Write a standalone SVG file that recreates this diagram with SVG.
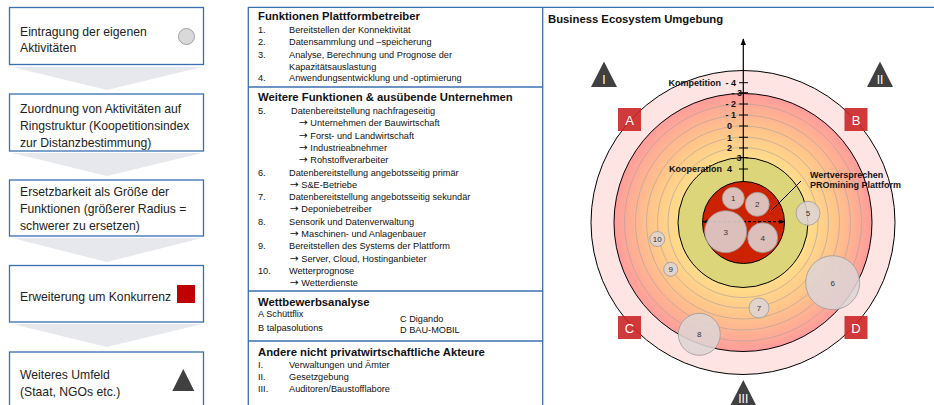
<svg xmlns="http://www.w3.org/2000/svg" width="934" height="405" viewBox="0 0 934 405">
<defs>
<style>
.box{fill:#fff;stroke:#3A6FB0;stroke-width:1.3}
.chev{fill:#E6E8EE}
.lt{font-family:"Liberation Sans",Arial,sans-serif;font-size:12.2px;fill:#222}
.hd{font-family:"Liberation Sans",Arial,sans-serif;font-size:11.3px;font-weight:bold;fill:#111}
.bd{font-family:"Liberation Sans",Arial,sans-serif;font-size:9.2px;fill:#111}
.ar{font-family:"DejaVu Sans",sans-serif;font-size:10.5px}
.ax{font-family:"Liberation Sans",Arial,sans-serif;font-size:9px;font-weight:bold;fill:#111;text-anchor:end}
.bub{fill:#DED4D4;fill-opacity:0.88;stroke:#9E9898;stroke-width:0.8}
.bn{font-family:"Liberation Sans",Arial,sans-serif;font-size:8px;fill:#333;text-anchor:middle}
.sq{fill:#CC2525;fill-opacity:0.9}
.sqt{font-family:"Liberation Sans",Arial,sans-serif;font-size:13px;fill:#fff;text-anchor:middle}
.tri{fill:#404040}
.trt{font-family:"Liberation Sans",Arial,sans-serif;font-size:12px;fill:#fff;text-anchor:middle}
.ring{fill:none;stroke:#A8A0A0;stroke-width:0.6}
.pl{stroke:#3A6FB0;stroke-width:1.3;fill:none}
.tk{stroke:#000;stroke-width:1}
</style>
<radialGradient id="g" gradientUnits="userSpaceOnUse" cx="743" cy="222.5" r="129">
<stop offset="0.5" stop-color="#FFDD8A"/>
<stop offset="0.72" stop-color="#FFC58A"/>
<stop offset="1" stop-color="#FF9C9C"/>
</radialGradient>
<marker id="ah" viewBox="0 0 10 10" refX="9" refY="5" markerWidth="7" markerHeight="7" orient="auto-start-reverse" markerUnits="userSpaceOnUse"><path d="M0,1 L10,5 L0,9 z" fill="#000"/></marker>
<marker id="ahs" viewBox="0 0 10 10" refX="9" refY="5" markerWidth="6" markerHeight="6" orient="auto-start-reverse" markerUnits="userSpaceOnUse"><path d="M0,1 L10,5 L0,9 z" fill="#000"/></marker>
</defs>

<!-- Left process column -->
<g id="step1">
<rect class="box" x="9.5" y="7.5" width="194" height="57"/>
<text class="lt" x="20" y="35.5">Eintragung der eigenen</text>
<text class="lt" x="20" y="51.5">Aktivitäten</text>
<circle cx="186.5" cy="36.5" r="8" fill="#D9D9D9" stroke="#A0A0A0" stroke-width="1"/>
</g>
<g id="step2">
<rect class="box" x="9.5" y="94" width="194" height="57"/>
<text class="lt" x="20" y="112.5">Zuordnung von Aktivitäten auf</text>
<text class="lt" x="20" y="129.5">Ringstruktur (Koopetitionsindex</text>
<text class="lt" x="20" y="146.5">zur Distanzbestimmung)</text>
</g>
<g id="step3">
<rect class="box" x="9.5" y="180" width="194" height="56"/>
<text class="lt" x="20" y="196">Ersetzbarkeit als Größe der</text>
<text class="lt" x="20" y="213">Funktionen (größerer Radius =</text>
<text class="lt" x="20" y="230">schwerer zu ersetzen)</text>
</g>
<g id="step4">
<rect class="box" x="9.5" y="265.5" width="194" height="56.5"/>
<text class="lt" x="20" y="300.5">Erweiterung um Konkurrenz</text>
<rect x="177" y="285" width="18" height="18" fill="#C00000"/>
</g>
<g id="step5">
<rect class="box" x="9.5" y="352" width="194" height="60"/>
<text class="lt" x="20" y="378.5">Weiteres Umfeld</text>
<text class="lt" x="20" y="395.5">(Staat, NGOs etc.)</text>
<polygon class="tri" points="183.3,369 194.3,391 172.3,391"/>
</g>

<g id="connectors">
<polygon class="chev" points="12,67 202,67 107,90"/>
<polygon class="chev" points="12,153 202,153 107,176"/>
<polygon class="chev" points="12,238 202,238 107,262"/>
<polygon class="chev" points="12,324 202,324 107,347"/>
</g>

<!-- Middle panel -->
<g id="panel">
<line class="pl" x1="248" y1="7.3" x2="934" y2="7.3"/>
<line class="pl" x1="248.3" y1="7.3" x2="248.3" y2="405"/>
<line class="pl" x1="542.7" y1="7.3" x2="542.7" y2="405"/>
<line class="pl" x1="248.3" y1="87" x2="542.7" y2="87"/>
<line class="pl" x1="248.3" y1="291" x2="542.7" y2="291"/>
<line class="pl" x1="248.3" y1="341" x2="542.7" y2="341"/>
</g>
<g id="sec1">
<text class="hd" x="258" y="20">Funktionen Plattformbetreiber</text>
<text class="bd" x="258" y="33">1.</text><text class="bd" x="289" y="33">Bereitstellen der Konnektivität</text>
<text class="bd" x="258" y="45">2.</text><text class="bd" x="289" y="45">Datensammlung und –speicherung</text>
<text class="bd" x="258" y="57.5">3.</text><text class="bd" x="289" y="57.5">Analyse, Berechnung und Prognose der</text>
<text class="bd" x="289" y="69.5">Kapazitätsauslastung</text>
<text class="bd" x="258" y="81">4.</text><text class="bd" x="289" y="81">Anwendungsentwicklung und -optimierung</text>
</g>
<g id="sec2">
<text class="hd" x="258" y="101">Weitere Funktionen &amp; ausübende Unternehmen</text>
<text class="bd" x="258" y="113.5">5.</text><text class="bd" x="291" y="113.5">Datenbereitstellung nachfrageseitig</text>
<text class="bd" x="299" y="126"><tspan class="ar">→</tspan> Unternehmen der Bauwirtschaft</text>
<text class="bd" x="299" y="138.5"><tspan class="ar">→</tspan> Forst- und Landwirtschaft</text>
<text class="bd" x="299" y="150.5"><tspan class="ar">→</tspan> Industrieabnehmer</text>
<text class="bd" x="299" y="163"><tspan class="ar">→</tspan> Rohstoffverarbeiter</text>
<text class="bd" x="258" y="175.5">6.</text><text class="bd" x="289" y="175.5">Datenbereitstellung angebotsseitig primär</text>
<text class="bd" x="290" y="187.5"><tspan class="ar">→</tspan> S&amp;E-Betriebe</text>
<text class="bd" x="258" y="200">7.</text><text class="bd" x="289" y="200">Datenbereitstellung angebotsseitig sekundär</text>
<text class="bd" x="290" y="212"><tspan class="ar">→</tspan> Deponiebetreiber</text>
<text class="bd" x="258" y="224.5">8.</text><text class="bd" x="289" y="224.5">Sensorik und Datenverwaltung</text>
<text class="bd" x="290" y="237"><tspan class="ar">→</tspan> Maschinen- und Anlagenbauer</text>
<text class="bd" x="258" y="249">9.</text><text class="bd" x="289" y="249">Bereitstellen des Systems der Plattform</text>
<text class="bd" x="290" y="261.5"><tspan class="ar">→</tspan> Server, Cloud, Hostinganbieter</text>
<text class="bd" x="258" y="274">10.</text><text class="bd" x="289" y="274">Wetterprognose</text>
<text class="bd" x="290" y="286"><tspan class="ar">→</tspan> Wetterdienste</text>
</g>
<g id="sec3">
<text class="hd" x="258" y="306">Wettbewerbsanalyse</text>
<text class="bd" x="258" y="316.5">A Schüttflix</text>
<text class="bd" x="258" y="330.5">B talpasolutions</text>
<text class="bd" x="400" y="321.5">C Digando</text>
<text class="bd" x="400" y="332.5">D BAU-MOBIL</text>
</g>
<g id="sec4">
<text class="hd" x="258" y="356">Andere nicht privatwirtschaftliche Akteure</text>
<text class="bd" x="258" y="368">I.</text><text class="bd" x="289" y="368">Verwaltungen und Ämter</text>
<text class="bd" x="258" y="380">II.</text><text class="bd" x="289" y="380">Gesetzgebung</text>
<text class="bd" x="258" y="392">III.</text><text class="bd" x="289" y="392">Auditoren/Baustofflabore</text>
</g>

<!-- Right diagram -->
<text class="hd" x="548" y="23">Business Ecosystem Umgebung</text>
<g id="rings">
<circle cx="743" cy="222.5" r="152" fill="#FFE4E4" stroke="#000" stroke-width="1"/>
<circle cx="743" cy="222.5" r="129" fill="url(#g)" stroke="#000" stroke-width="1"/>
<circle class="ring" cx="743" cy="222.5" r="118.5"/>
<circle class="ring" cx="743" cy="222.5" r="107.5"/>
<circle class="ring" cx="743" cy="222.5" r="96.5"/>
<circle class="ring" cx="743" cy="222.5" r="85.5"/>
<circle class="ring" cx="743" cy="222.5" r="75"/>
<circle cx="743" cy="222.5" r="65" fill="#DDD57A" stroke="#000" stroke-width="1"/>
<circle cx="743.5" cy="222.5" r="41" fill="#CC2200" stroke="#000" stroke-width="1"/>
</g>
<g id="axis">
<line x1="743.3" y1="182" x2="743.3" y2="39" stroke="#000" stroke-width="1.2" marker-end="url(#ah)"/>
<line class="tk" x1="739" y1="82.7" x2="748" y2="82.7"/>
<line class="tk" x1="739" y1="92.7" x2="748" y2="92.7"/>
<line class="tk" x1="739" y1="104" x2="748" y2="104"/>
<line class="tk" x1="739" y1="115" x2="748" y2="115"/>
<line class="tk" x1="739" y1="126" x2="748" y2="126"/>
<line class="tk" x1="739" y1="137.3" x2="748" y2="137.3"/>
<line class="tk" x1="739" y1="148" x2="748" y2="148"/>
<line class="tk" x1="739" y1="157.7" x2="748" y2="157.7"/>
<line class="tk" x1="739" y1="169" x2="748" y2="169"/>
<text class="ax" x="721" y="86">Kompetition</text>
<text class="ax" x="736" y="86">- 4</text>
<text class="ax" x="742" y="96">- 3</text>
<text class="ax" x="736" y="107.3">- 2</text>
<text class="ax" x="736" y="118.3">- 1</text>
<text class="ax" x="732" y="129.3">0</text>
<text class="ax" x="732" y="140.6">1</text>
<text class="ax" x="732" y="151.3">2</text>
<text class="ax" x="741.5" y="161">3</text>
<text class="ax" x="722" y="172.3">Kooperation</text>
<text class="ax" x="732" y="172.3">4</text>
</g>
<g id="distance-arrow">
<line x1="703" y1="221.7" x2="784" y2="221.7" stroke="#000" stroke-width="1.2" stroke-dasharray="3,2" marker-start="url(#ahs)" marker-end="url(#ahs)"/>
</g>
<g id="bubble-1"><circle class="bub" cx="733.3" cy="198.3" r="11"/><text class="bn" x="733.3" y="201">1</text></g>
<g id="bubble-2"><circle class="bub" cx="757.3" cy="204.3" r="12"/><text class="bn" x="757.3" y="207">2</text></g>
<g id="bubble-3"><circle class="bub" cx="725.7" cy="231.7" r="21"/><text class="bn" x="725.7" y="234.5">3</text></g>
<g id="bubble-4"><circle class="bub" cx="762.7" cy="237.7" r="15"/><text class="bn" x="762.7" y="240.5">4</text></g>
<g id="bubble-5"><circle class="bub" cx="808" cy="213.3" r="12" fill-opacity="0.7"/><text class="bn" x="808" y="216">5</text></g>
<g id="bubble-6"><circle class="bub" cx="832.7" cy="282.7" r="27" fill-opacity="0.7"/><text class="bn" x="832.7" y="285.5">6</text></g>
<g id="bubble-7"><circle class="bub" cx="759" cy="308" r="10"/><text class="bn" x="759" y="311">7</text></g>
<g id="bubble-8"><circle class="bub" cx="699.3" cy="334.3" r="21" fill-opacity="0.7"/><text class="bn" x="699.3" y="337">8</text></g>
<g id="bubble-9"><circle class="bub" cx="670.7" cy="269.3" r="7"/><text class="bn" x="670.7" y="272">9</text></g>
<g id="bubble-10"><circle class="bub" cx="657.3" cy="239" r="7.5"/><text class="bn" x="657.3" y="241.8">10</text></g>

<g id="value-label">
<line x1="771" y1="211" x2="801" y2="181" stroke="#000" stroke-width="1"/>
<text class="ax" style="text-anchor:start" x="810" y="177.5">Wertversprechen</text>
<text class="ax" style="text-anchor:start" x="810" y="188">PROmining Plattform</text>
</g>

<g id="competitor-A"><rect class="sq" x="618" y="108" width="23" height="23"/><text class="sqt" x="629.5" y="124.5">A</text></g>
<g id="competitor-B"><rect class="sq" x="844.5" y="108" width="23" height="23"/><text class="sqt" x="856" y="124.5">B</text></g>
<g id="competitor-C"><rect class="sq" x="618" y="316" width="23" height="23"/><text class="sqt" x="629.5" y="332.5">C</text></g>
<g id="competitor-D"><rect class="sq" x="844.5" y="316" width="23" height="23"/><text class="sqt" x="856" y="332.5">D</text></g>

<g id="actor-I"><polygon class="tri" points="604,61.5 617,87 591,87"/><text class="trt" x="604" y="84">I</text></g>
<g id="actor-II"><polygon class="tri" points="880,61.5 893,87 867,87"/><text class="trt" x="880" y="84">II</text></g>
<g id="actor-III"><polygon class="tri" points="743.3,380 756.3,405.5 730.3,405.5"/><text class="trt" x="743.3" y="403">III</text></g>
</svg>
